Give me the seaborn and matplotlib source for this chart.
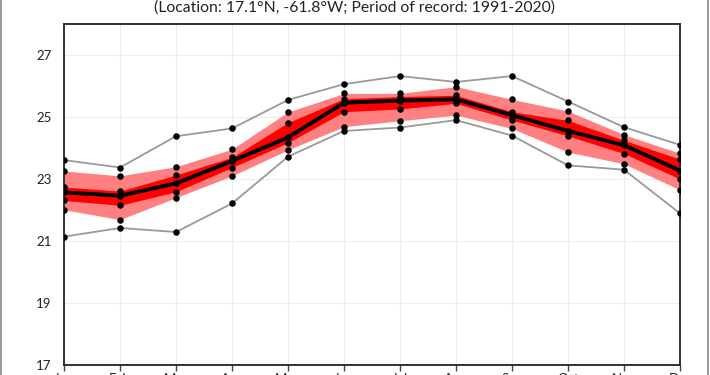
import seaborn as sns
import numpy as np
import pandas as pd
import matplotlib.pyplot as plt
from matplotlib.patches import Rectangle

# 数据
months = ['Jan', 'Feb', 'Mar', 'Apr', 'May', 'Jun', 'Jul', 'Aug', 'Sep', 'Oct', 'Nov', 'Dec']
t_max = [23.61, 23.37, 24.38, 24.63, 25.55, 26.06, 26.32, 26.13, 26.32, 25.50, 24.67, 24.10]
t_p90 = [23.26, 23.10, 23.40, 23.96, 25.16, 25.76, 25.76, 25.98, 25.57, 25.19, 24.43, 23.83]
t_p75 = [22.74, 22.61, 23.13, 23.70, 24.82, 25.59, 25.66, 25.70, 25.17, 24.89, 24.25, 23.64]
t_med = [22.57, 22.46, 22.86, 23.58, 24.34, 25.46, 25.53, 25.57, 25.06, 24.55, 24.09, 23.27]
t_p25 = [22.31, 22.15, 22.59, 23.37, 24.17, 25.17, 25.26, 25.44, 24.90, 24.39, 23.82, 23.00]
t_p10 = [22.01, 21.69, 22.40, 23.10, 23.94, 24.69, 24.88, 25.06, 24.63, 23.87, 23.49, 22.65]
t_min = [21.14, 21.42, 21.29, 22.21, 23.72, 24.55, 24.66, 24.90, 24.40, 23.44, 23.30, 21.89]
y_ticks = [17, 19, 21, 23, 25, 27]
subtitle = '(Location: 17.1°N, -61.8°W; Period of record: 1991-2020)'

x = np.arange(len(months))
df = pd.DataFrame({'x': x, 'max': t_max, 'p90': t_p90, 'p75': t_p75, 'med': t_med,
                   'p25': t_p25, 'p10': t_p10, 'min': t_min})
long = df.melt(id_vars='x', var_name='stat', value_name='t')

sns.set_style('white')
plt.rcParams['font.family'] = ['Lato', 'DejaVu Sans']

fig = plt.figure(figsize=(7.1, 3.75), dpi=100)
ax = fig.add_axes([64 / 710, 10 / 375, 616 / 710, 341 / 375])

# 阴影带
ax.fill_between(df['x'], df['p10'], df['p90'], color='#ff8080', lw=0, zorder=1)
ax.fill_between(df['x'], df['p25'], df['p75'], color='#ff0000', lw=0, zorder=2)

# 线
for s in ['max', 'min']:
    sns.lineplot(data=df, x='x', y=s, color='#999999', lw=1.3, ax=ax, zorder=3)
sns.lineplot(data=df, x='x', y='med', color='black', lw=2.8, ax=ax, zorder=4)

# 点
sns.scatterplot(data=long, x='x', y='t', color='black', s=22, linewidth=0, ax=ax, zorder=5)

ax.set_xlim(0, 11)
ax.set_ylim(17, 28)
ax.set_xticks(x)
ax.set_xticklabels(months)
ax.set_yticks(y_ticks)
ax.set_xlabel('')
ax.set_ylabel('')
ax.grid(True, color='#eeeeee', lw=0.8)
ax.set_axisbelow(True)
ax.tick_params(axis='x', length=4, width=1, color='#444444', pad=2, labelsize=9.5, labelcolor='#222222')
ax.tick_params(axis='y', length=0, pad=9, labelsize=9.5, labelcolor='#222222')
ax.tick_params(axis='x', bottom=True)
for sp in ax.spines.values():
    sp.set_color('#222222')
    sp.set_linewidth(1.3)

fig.text(0.5, 0.979, subtitle, ha='center', va='center', fontsize=11.3, color='#222222')

# 外框
fig.patches.append(Rectangle((0.0015, -0.1), 0.996, 1.2, transform=fig.transFigure,
                             fill=False, edgecolor='#888888', lw=1.2))

fig.savefig('out.png', dpi=100)
